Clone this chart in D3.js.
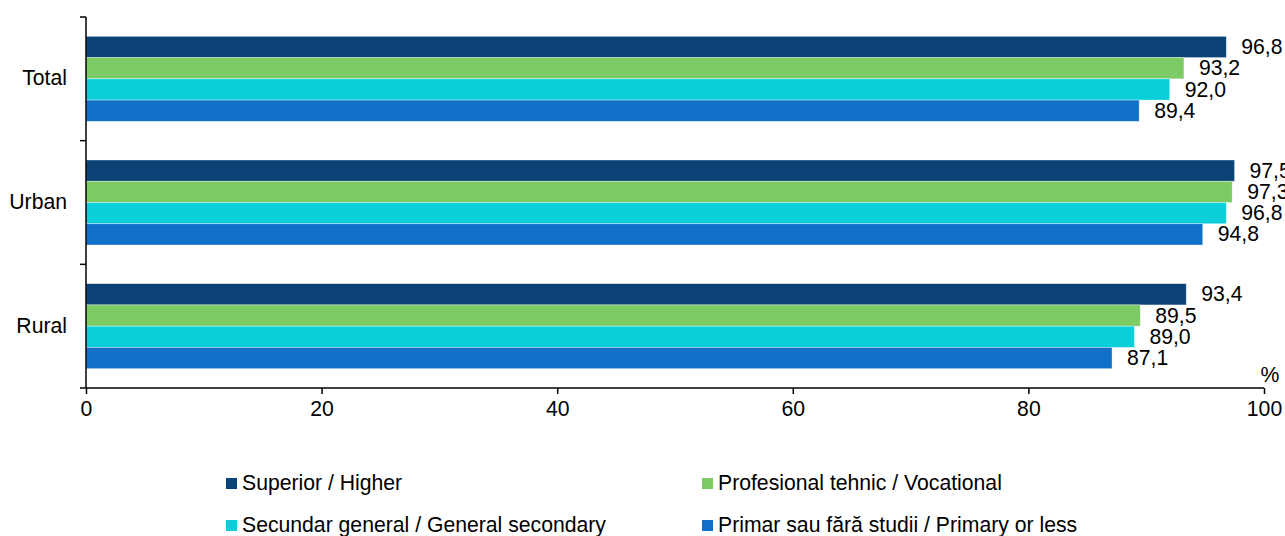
<!DOCTYPE html>
<html><head><meta charset="utf-8">
<script src="https://cdn.jsdelivr.net/npm/d3@7"></script>
<style>body{margin:0;background:#fff}svg{display:block;font-family:"Liberation Sans",Arial,sans-serif}</style>
</head><body><svg id="c" width="1285" height="536"></svg>
<script>
const categories = ["Total","Urban","Rural"];
const seriesNames = ["Superior / Higher","Profesional tehnic / Vocational","Secundar general / General secondary","Primar sau fără studii / Primary or less"];
const seriesColors = ["#0B4377","#7DCB65","#0BCFD8","#1070C8"];
const superior = [96.8,97.5,93.4];
const profesional = [93.2,97.3,89.5];
const secundar = [92.0,96.8,89.0];
const primar = [89.4,94.8,87.1];
const xTicks = [0,20,40,60,80,100];
const seriesValues = [superior,profesional,secundar,primar];

(function(){
const FS = 21.2;
const svg = d3.select("#c");
const mLeft = 86, mRight = 1264, mTop = 17, mBottom = 388;
const x = d3.scaleLinear().domain([0,100]).range([mLeft,mRight]);
const y0 = d3.scaleBand().domain(categories).range([mTop,mBottom]).padding(0);
const y1 = d3.scaleBand().domain(d3.range(seriesNames.length)).range([0,y0.bandwidth()]).paddingInner(0).paddingOuter(0.91);
const fmt = v => d3.format(".1f")(v).replace(".",",");

categories.forEach((c,ci)=>{
  seriesValues.forEach((vals,si)=>{
    const v = vals[ci];
    svg.append("rect")
      .attr("x",x(0)).attr("y",y0(c)+y1(si))
      .attr("width",x(v)-x(0)).attr("height",y1.bandwidth())
      .attr("fill",seriesColors[si])
      .attr("stroke","rgba(255,255,255,0.5)").attr("stroke-width",0.7);
    svg.append("text")
      .attr("x",x(v)+15).attr("y",y0(c)+y1(si)+y1.bandwidth()/2+1.5)
      .attr("dominant-baseline","middle")
      .attr("font-size",FS).attr("fill","#000")
      .text(fmt(v));
  });
});

svg.append("line").attr("x1",mLeft).attr("x2",mLeft).attr("y1",mTop).attr("y2",mBottom).attr("stroke","#000").attr("stroke-width",1.5);
const yTickPos = categories.map(c=>y0(c)).concat([mBottom]);
yTickPos.forEach(p=>{
  svg.append("line").attr("x1",mLeft-6).attr("x2",mLeft).attr("y1",p).attr("y2",p).attr("stroke","#000").attr("stroke-width",1.5);
});
categories.forEach(c=>{
  svg.append("text").attr("x",67).attr("y",y0(c)+y0.bandwidth()/2+1)
    .attr("text-anchor","end").attr("dominant-baseline","middle")
    .attr("font-size",FS).text(c);
});

const xa = svg.append("g").attr("transform",`translate(0,${mBottom})`)
  .call(d3.axisBottom(x).tickValues(xTicks).tickSize(6).tickPadding(7).tickFormat(d3.format("d")));
xa.select(".domain").attr("stroke","#000").attr("stroke-width",1.5).attr("d",`M${mLeft},0H${mRight}`);
xa.selectAll(".tick line").attr("stroke","#000").attr("stroke-width",1.5);
xa.selectAll(".tick text").attr("font-size",FS).attr("font-family","Liberation Sans, Arial, sans-serif").attr("fill","#000");

svg.append("text").attr("x",1270).attr("y",376).attr("text-anchor","middle").attr("dominant-baseline","middle").attr("font-size",FS).text("%");

const legPos = [[226,483],[702,483],[226,525],[702,525]];
seriesNames.forEach((n,i)=>{
  const [lx,ly] = legPos[i];
  svg.append("rect").attr("x",lx).attr("y",ly-5).attr("width",11).attr("height",11).attr("fill",seriesColors[i]);
  svg.append("text").attr("x",lx+16).attr("y",ly+1.5).attr("dominant-baseline","middle").attr("font-size",FS).text(n);
});
})();
</script></body></html>
